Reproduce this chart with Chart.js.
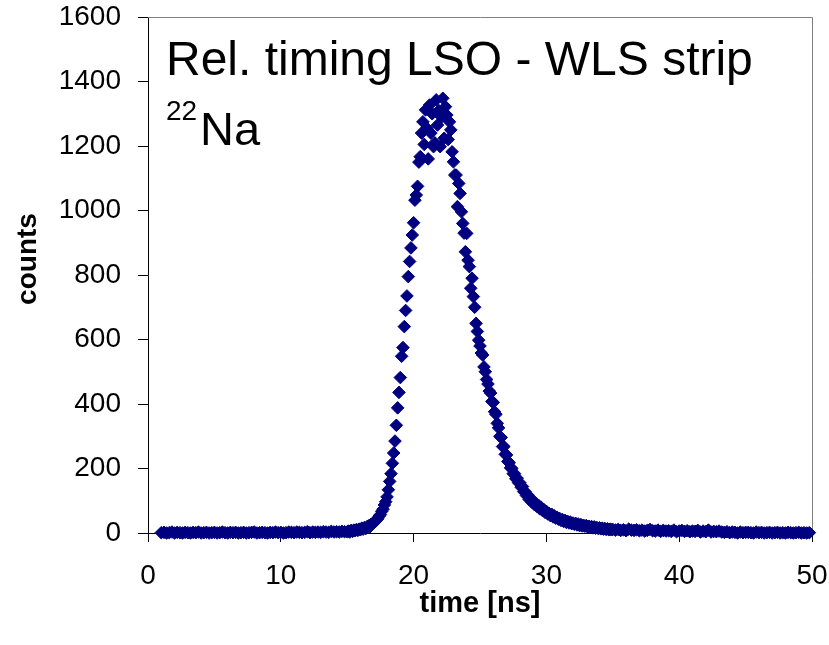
<!DOCTYPE html>
<html>
<head>
<meta charset="utf-8">
<script src="https://cdn.jsdelivr.net/npm/chart.js@4.4.1/dist/chart.umd.min.js"></script>
<style>
  html, body { margin: 0; padding: 0; background: #fff; }
  #wrap { width: 829px; height: 645px; }
</style>
</head>
<body>
<div id="wrap"><canvas id="timing" width="829" height="645"></canvas></div>
<script>
// flat part before the peak, 1.0 .. 14.8 ns in 0.2 ns bins
const baseStart = 1.0, baseStep = 0.2;
const baseCounts = [
  1, 2, 0, 1, 3, 0, 2, 1, 0, 2,
  1, 0, 2, 1, 3, 0, 1, 2, 0, 1,
  2, 0, 1, 3, 1, 0, 2, 1, 2, 0,
  1, 2, 0, 1, 2, 3, 0, 1, 2, 1,
  0, 2, 1, 3, 1, 2, 0, 1, 3, 2,
  1, 3, 2, 1, 2, 4, 1, 3, 2, 3,
  2, 4, 3, 2, 5, 3, 4, 3, 5, 4
];

// peak, 15.0 .. 35.0 ns in 0.1 ns bins
const peakStart = 15.0, peakStep = 0.1;
const peakCounts = [
  4, 6, 3, 8, 5, 9, 7, 11, 8, 12,
  10, 15, 12, 17, 14, 20, 22, 19, 27, 29,
  33, 35, 41, 44, 52, 57, 67, 74, 87, 97,
  112, 134, 160, 184, 216, 248, 285, 334, 388, 436,
  482, 548, 575, 640, 690, 735, 795, 842, 884, 924,
  962, 1032, 1048, 1075, 1150, 1167, 1240, 1275, 1205, 1312,
  1255, 1160, 1327, 1240, 1300, 1198, 1210, 1343, 1265, 1310,
  1198, 1290, 1348, 1224, 1322, 1296, 1220, 1275, 1250, 1182,
  1151, 1110, 1110, 1012, 1084, 1053, 996, 960, 930, 872,
  929, 846, 826, 759, 790, 733, 700, 650, 625, 598,
  580, 558, 552, 515, 500, 476, 462, 440, 434, 408,
  405, 376, 368, 340, 326, 300, 296, 268, 268, 244,
  242, 222, 218, 202, 200, 184, 184, 168, 170, 156,
  156, 142, 144, 128, 128, 116, 118, 104, 108, 96,
  100, 88, 92, 82, 86, 75, 80, 70, 73, 64,
  67, 59, 61, 54, 58, 50, 53, 46, 49, 43,
  45, 39, 42, 36, 39, 33, 36, 31, 34, 29,
  31, 27, 30, 25, 28, 23, 26, 22, 24, 21,
  23, 19, 21, 18, 20, 16, 19, 15, 17, 14,
  16, 13, 15, 12, 14, 11, 13, 10, 12, 10,
  11
];

// tail, 35.2 .. 49.8 ns in 0.2 ns bins
const tailStart = 35.2, tailStep = 0.2;
const tailCounts = [
  9, 11, 8, 10, 7, 12, 9, 8, 10, 7,
  9, 6, 8, 11, 7, 6, 9, 5, 8, 6,
  7, 5, 9, 4, 6, 8, 5, 7, 4, 6,
  5, 8, 3, 6, 4, 9, 3, 5, 4, 6,
  3, 2, 4, 1, 3, 2, 0, 3, 1, 2,
  2, 1, 0, 3, 1, 2, 0, 1, 2, 0,
  1, 2, 0, 1, 0, 2, 1, 0, 1, 2,
  0, 1, 0, 1
];

const xTicks = [0, 10, 20, 30, 40, 50];
const yTicks = [0, 200, 400, 600, 800, 1000, 1200, 1400, 1600];

const titleText = "Rel. timing LSO - WLS strip";
const isotopeMass = "22";
const isotopeName = "Na";
const xTitle = "time [ns]";
const yTitle = "counts";

const FONT = "'Liberation Sans', Arial, sans-serif";
const navy = "#000080";

function bins(start, step, counts) {
  return counts.map((c, i) => ({ x: +(start + i * step).toFixed(2), y: c }));
}

const points = [
  ...bins(baseStart, baseStep, baseCounts),
  ...bins(peakStart, peakStep, peakCounts),
  ...bins(tailStart, tailStep, tailCounts)
];

// grey frame on top/right + the texts
const decor = {
  id: "decor",
  beforeDatasetsDraw(chart) {
    const { ctx, chartArea: a } = chart;
    ctx.save();
    ctx.strokeStyle = "#808080";
    ctx.lineWidth = 1;
    ctx.beginPath();
    ctx.moveTo(a.left, a.top + 0.5);
    ctx.lineTo(a.right + 0.5, a.top + 0.5);
    ctx.lineTo(a.right + 0.5, a.bottom);
    ctx.stroke();
    ctx.restore();
  },
  afterDraw(chart) {
    const { ctx, chartArea: a } = chart;
    ctx.save();
    ctx.fillStyle = "#000";
    ctx.textBaseline = "alphabetic";
    ctx.textAlign = "left";
    ctx.font = "48px " + FONT;
    ctx.fillText(titleText, 166, 75);
    ctx.font = "28px " + FONT;
    ctx.fillText(isotopeMass, 166, 120);
    ctx.font = "47px " + FONT;
    ctx.fillText(isotopeName, 200, 145);

    ctx.textAlign = "center";
    ctx.textBaseline = "middle";
    ctx.font = "bold 29px " + FONT;
    ctx.fillText(xTitle, (a.left + a.right) / 2, 604);
    ctx.font = "bold 28px " + FONT;
    ctx.translate(28, 259);
    ctx.rotate(-Math.PI / 2);
    ctx.fillText(yTitle, 0, 0);
    ctx.restore();
  }
};

function noOverhang(s) {
  s.paddingTop = 0;
  s.paddingBottom = 0;
  s.paddingLeft = 0;
  s.paddingRight = 0;
}

const ctx = document.getElementById("timing").getContext("2d");
const chart = new Chart(ctx, {
  type: "scatter",
  data: {
    datasets: [
      {
        data: points,
        pointStyle: "rectRot",
        pointRadius: 6.3,
        borderWidth: 1,
        backgroundColor: navy,
        borderColor: navy,
        clip: false
      }
    ]
  },
  options: {
    responsive: false,
    animation: false,
    layout: { padding: { top: 17, right: 17, left: 0, bottom: 0 } },
    plugins: { legend: { display: false }, tooltip: { enabled: false } },
    scales: {
      x: {
        type: "linear",
        min: xTicks[0],
        max: xTicks[xTicks.length - 1],
        afterFit: (s) => { s.height = 112; noOverhang(s); },
        afterBuildTicks: (s) => { s.ticks = xTicks.map((v) => ({ value: v })); },
        ticks: {
          color: "#000", font: { family: FONT, size: 28 }, padding: 17, maxRotation: 0,
          callback: (v) => String(v)
        },
        grid: { drawOnChartArea: false, tickLength: 9, color: "#000" },
        border: { color: "#000" }
      },
      y: {
        min: yTicks[0],
        max: yTicks[yTicks.length - 1],
        afterFit: (s) => { s.width = 148; noOverhang(s); },
        afterBuildTicks: (s) => { s.ticks = yTicks.map((v) => ({ value: v })); },
        ticks: {
          color: "#000", font: { family: FONT, size: 28 }, padding: 17,
          callback: (v) => String(v)
        },
        grid: { drawOnChartArea: false, tickLength: 10, color: "#000" },
        border: { color: "#000" }
      }
    }
  },
  plugins: [decor]
});
</script>
</body>
</html>
